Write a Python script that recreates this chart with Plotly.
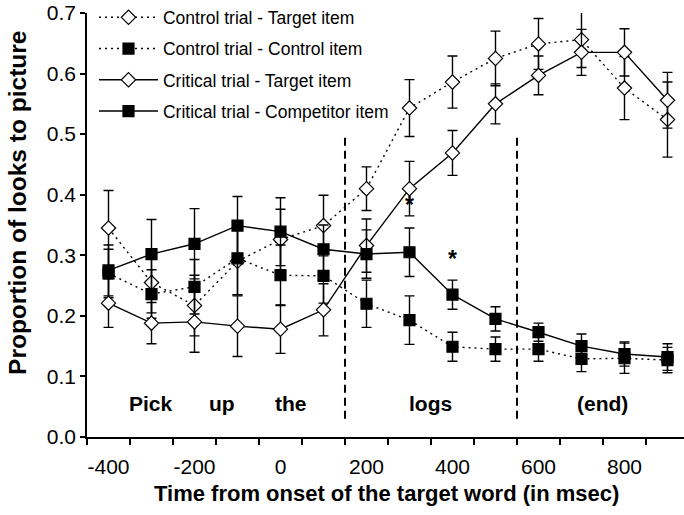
import plotly.graph_objects as go

time_ms = [-400, -300, -200, -100, 0, 100, 200, 300, 400, 500, 600, 700, 800, 900]

ctrl_target = [0.345, 0.255, 0.217, 0.290, 0.326, 0.349, 0.410, 0.543, 0.586, 0.625, 0.649, 0.656, 0.576, 0.524]
ctrl_target_err = [0.062, 0.05, 0.05, 0.055, 0.05, 0.05, 0.036, 0.047, 0.043, 0.045, 0.042, 0.046, 0.052, 0.062]

ctrl_control = [0.270, 0.236, 0.248, 0.295, 0.267, 0.266, 0.220, 0.193, 0.149, 0.145, 0.145, 0.129, 0.130, 0.127]
ctrl_control_err = [0.04, 0.04, 0.045, 0.06, 0.05, 0.045, 0.039, 0.04, 0.024, 0.02, 0.02, 0.021, 0.025, 0.021]

crit_target = [0.221, 0.188, 0.190, 0.183, 0.178, 0.210, 0.316, 0.410, 0.469, 0.550, 0.597, 0.635, 0.635, 0.556]
crit_target_err = [0.04, 0.034, 0.05, 0.05, 0.04, 0.043, 0.044, 0.045, 0.037, 0.033, 0.032, 0.038, 0.039, 0.046]

crit_comp = [0.275, 0.302, 0.319, 0.349, 0.339, 0.310, 0.302, 0.305, 0.235, 0.195, 0.173, 0.150, 0.137, 0.132]
crit_comp_err = [0.042, 0.057, 0.058, 0.048, 0.056, 0.04, 0.04, 0.04, 0.024, 0.02, 0.015, 0.02, 0.02, 0.022]

series_names = ["Control trial - Target item", "Control trial - Control item",
                "Critical trial - Target item", "Critical trial - Competitor item"]

x_tick_vals = [-400, -200, 0, 200, 400, 600, 800]
x_tick_text = ["-400", "-200", "0", "200", "400", "600", "800"]
boundary_ticks = [-450, -350, -250, -150, -50, 50, 150, 250, 350, 450, 550, 650, 750, 850]
y_tick_vals = [0.0, 0.1, 0.2, 0.3, 0.4, 0.5, 0.6, 0.7]
y_tick_text = ["0.0", "0.1", "0.2", "0.3", "0.4", "0.5", "0.6", "0.7"]

region_lines = [150, 550]
word_labels = ["Pick", "up", "the", "logs", "(end)"]
word_x = [-302, -137, 24, 348, 750]
word_y = 0.056
star_x = [300, 400]
star_y = [0.383, 0.294]

FONT = "Liberation Sans, Arial, sans-serif"

fig = go.Figure()

def add_series(y, err, name, symbol, fill, dash, group):
    fig.add_trace(go.Scatter(
        x=time_ms, y=y, name=name, mode="lines+markers", legendgroup=group,
        line=dict(color="black", width=1.4, dash=dash),
        marker=dict(symbol=symbol, size=11,
                    color=fill, line=dict(color="black", width=1.2)),
        error_y=dict(type="data", array=err, visible=True, color="black",
                     thickness=1.4, width=5),
    ))

add_series(ctrl_target, ctrl_target_err, series_names[0], "diamond", "white", "2px,4px", "a")
add_series(ctrl_control, ctrl_control_err, series_names[1], "square", "black", "2px,4px", "b")
add_series(crit_target, crit_target_err, series_names[2], "diamond", "white", "solid", "c")
add_series(crit_comp, crit_comp_err, series_names[3], "square", "black", "solid", "d")

for xv in region_lines:
    fig.add_shape(type="line", x0=xv, x1=xv, y0=0.03, y1=0.495, xref="x", yref="y",
                  line=dict(color="black", width=2, dash="8px,5px"))

for t, xv in zip(word_labels, word_x):
    fig.add_annotation(x=xv, y=word_y, text="<b>%s</b>" % t, showarrow=False,
                       font=dict(family=FONT, size=21, color="black"))
for xv, yv in zip(star_x, star_y):
    fig.add_annotation(x=xv, y=yv, text="<b>*</b>", showarrow=False,
                       font=dict(family=FONT, size=23, color="black"))

fig.add_annotation(xref="paper", yref="paper", x=0.5025, y=-0.134, yanchor="middle",
                   text="<b>Time from onset of the target word (in msec)</b>", showarrow=False,
                   font=dict(family=FONT, size=22, color="black"))
fig.add_annotation(xref="paper", yref="paper", x=-0.1156, y=0.552, textangle=-90,
                   xanchor="center", yanchor="middle",
                   text="<b>Proportion of looks to picture</b>", showarrow=False,
                   font=dict(family=FONT, size=24.5, color="black"))

fig.update_layout(
    width=684, height=515,
    margin=dict(l=87, r=0, t=13, b=78, autoexpand=False),
    paper_bgcolor="white", plot_bgcolor="white",
    font=dict(family=FONT, size=21, color="black"),
    showlegend=True,
    legend=dict(x=0.0117, y=1.032, xanchor="left", yanchor="top",
                font=dict(family=FONT, size=17.5, color="black"),
                bgcolor="rgba(0,0,0,0)", tracegroupgap=5.5, itemwidth=59,
                traceorder="grouped"),
    xaxis=dict(range=[-450, 938.4], tickmode="array", tickvals=x_tick_vals, ticktext=x_tick_text,
               ticks="outside", ticklen=10, tickcolor="rgba(0,0,0,0)",
               showline=True, linecolor="black", linewidth=1.5, showgrid=False, zeroline=False,
               minor=dict(tickmode="array", tickvals=boundary_ticks, ticks="outside",
                          ticklen=6, tickwidth=1.5, tickcolor="black", showgrid=False),
               tickfont=dict(family=FONT, size=21)),
    yaxis=dict(range=[0, 0.7], tickmode="array", tickvals=y_tick_vals, ticktext=y_tick_text,
               ticks="outside", ticklen=5, tickwidth=1.5, tickcolor="black",
               showline=True, linecolor="black", linewidth=1.5, showgrid=False, zeroline=False,
               ticklabeloverflow="allow", tickfont=dict(family=FONT, size=21)),
)

fig.write_html("out.html", config={"displayModeBar": False},
               post_script="document.body.style.margin='0';")
